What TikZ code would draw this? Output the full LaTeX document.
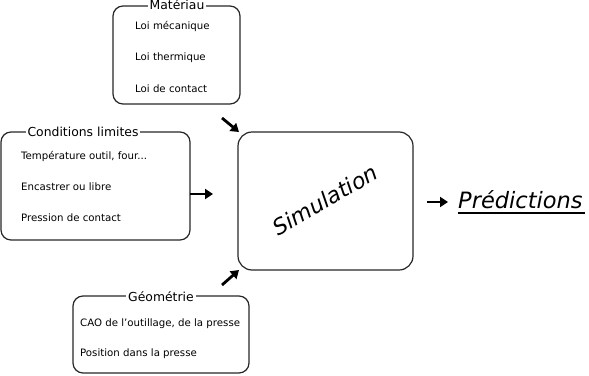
\documentclass[tikz,border=0pt]{standalone}
\usepackage{fontspec}
\setmainfont{DejaVu Sans}
\newfontfamily\handfont{DejaVu Sans}[UprightFont=* Oblique]
\usetikzlibrary{arrows.meta}
\begin{document}
\begin{tikzpicture}[x=1pt,y=-1pt,
  box/.style={draw=black!85,line width=1.2pt,rounded corners=10pt,inner sep=0pt},
  boxtitle/.style={fill=white,inner sep=2pt,font=\fontsize{12.4}{14}\selectfont},
  item/.style={anchor=west,inner sep=0pt,font=\fontsize{10.2}{12}\selectfont},
  fat/.style={line width=2.8pt,-{Triangle[length=8pt,width=10pt]}}]
\useasboundingbox (0,0) rectangle (589,375);
% Materiau
\node[box,minimum width=127pt,minimum height=98pt] (mat) at (176.5,55) {};
\node[boxtitle] (matt) at (177,5) {Matériau};
\node[item] (m1) at (135,26) {Loi mécanique};
\node[item] (m2) at (135,58) {Loi thermique};
\node[item] (m3) at (135,89) {Loi de contact};
% Conditions limites
\node[box,minimum width=189pt,minimum height=108pt] (cl) at (95.5,186) {};
\node[boxtitle] (clt) at (83,132) {Conditions limites};
\node[item] (c1) at (21,156) {Température outil, four...};
\node[item] (c2) at (21,187) {Encastrer ou libre};
\node[item] (c3) at (21,218) {Pression de contact};
% Geometrie
\node[box,minimum width=176pt,minimum height=77pt] (geo) at (161,334.5) {};
\node[boxtitle] (geot) at (161,297) {Géométrie};
\node[item] (g1) at (80,324) {CAO de l'outillage, de la presse};
\node[item] (g2) at (80,354) {Position dans la presse};
% Simulation
\node[box,rounded corners=14pt,minimum width=175pt,minimum height=138pt] (sim) at (325.5,201) {};
\node[rotate=30,font=\handfont\fontsize{22}{26}\selectfont] (simt) at (325,200) {Simulation};
% Predictions
\node[anchor=west,inner sep=0pt,font=\handfont\fontsize{22.5}{26}\selectfont] (pred) at (458,200) {Prédictions};
\coordinate (u1) at (458,213);
\coordinate (u2) at (585,213);
\draw[line width=1.4pt] (u1) -- (u2);
% arrows
\coordinate (a1s) at (222,118); \coordinate (a1e) at (239,132);
\coordinate (a2s) at (190,194); \coordinate (a2e) at (213,194);
\coordinate (a3s) at (222,285); \coordinate (a3e) at (239,270);
\coordinate (a4s) at (427,202); \coordinate (a4e) at (448,202);
\draw[fat] (a1s) -- (a1e);
\draw[fat] (a2s) -- (a2e);
\draw[fat] (a3s) -- (a3e);
\draw[fat] (a4s) -- (a4e);
\end{tikzpicture}
\end{document}
